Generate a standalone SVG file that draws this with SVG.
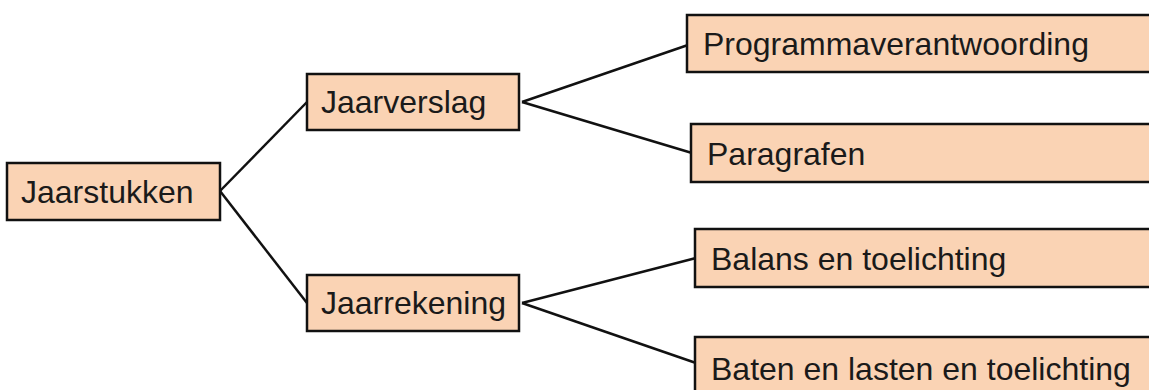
<svg xmlns="http://www.w3.org/2000/svg" width="1149" height="390" viewBox="0 0 1149 390">
<style>
.box{fill:#FAD3B4;stroke:#111;stroke-width:2.5}
.lbl{font-family:"Liberation Sans",Arial,sans-serif;font-size:32px;fill:#1a1a1a}
.con{stroke:#111;stroke-width:2.5;fill:none}
</style>
<rect x="0" y="0" width="1149" height="390" fill="#fff"/>
<g id="connectors">
<line class="con" x1="220" y1="191" x2="307" y2="102"/>
<line class="con" x1="220" y1="191" x2="307" y2="303"/>
<line class="con" x1="522" y1="102" x2="688" y2="45"/>
<line class="con" x1="522" y1="102" x2="692" y2="153"/>
<line class="con" x1="522" y1="303" x2="696" y2="258"/>
<line class="con" x1="522" y1="303" x2="696" y2="363"/>
</g>
<g id="jaarstukken"><rect class="box" x="7" y="163" width="213" height="57"/><text class="lbl" x="21" y="203">Jaarstukken</text></g>
<g id="jaarverslag"><rect class="box" x="307" y="74" width="212" height="56"/><text class="lbl" x="321" y="113">Jaarverslag</text></g>
<g id="jaarrekening"><rect class="box" x="307" y="275" width="212" height="56"/><text class="lbl" x="321" y="314">Jaarrekening</text></g>
<g id="programmaverantwoording"><rect class="box" x="687" y="15" width="480" height="57"/><text class="lbl" x="703" y="55">Programmaverantwoording</text></g>
<g id="paragrafen"><rect class="box" x="691" y="124" width="480" height="58"/><text class="lbl" x="707" y="165">Paragrafen</text></g>
<g id="balans"><rect class="box" x="695" y="229" width="480" height="58"/><text class="lbl" x="711" y="270">Balans en toelichting</text></g>
<g id="baten"><rect class="box" x="695" y="337" width="480" height="60"/><text class="lbl" x="711" y="380">Baten en lasten en toelichting</text></g>
</svg>
